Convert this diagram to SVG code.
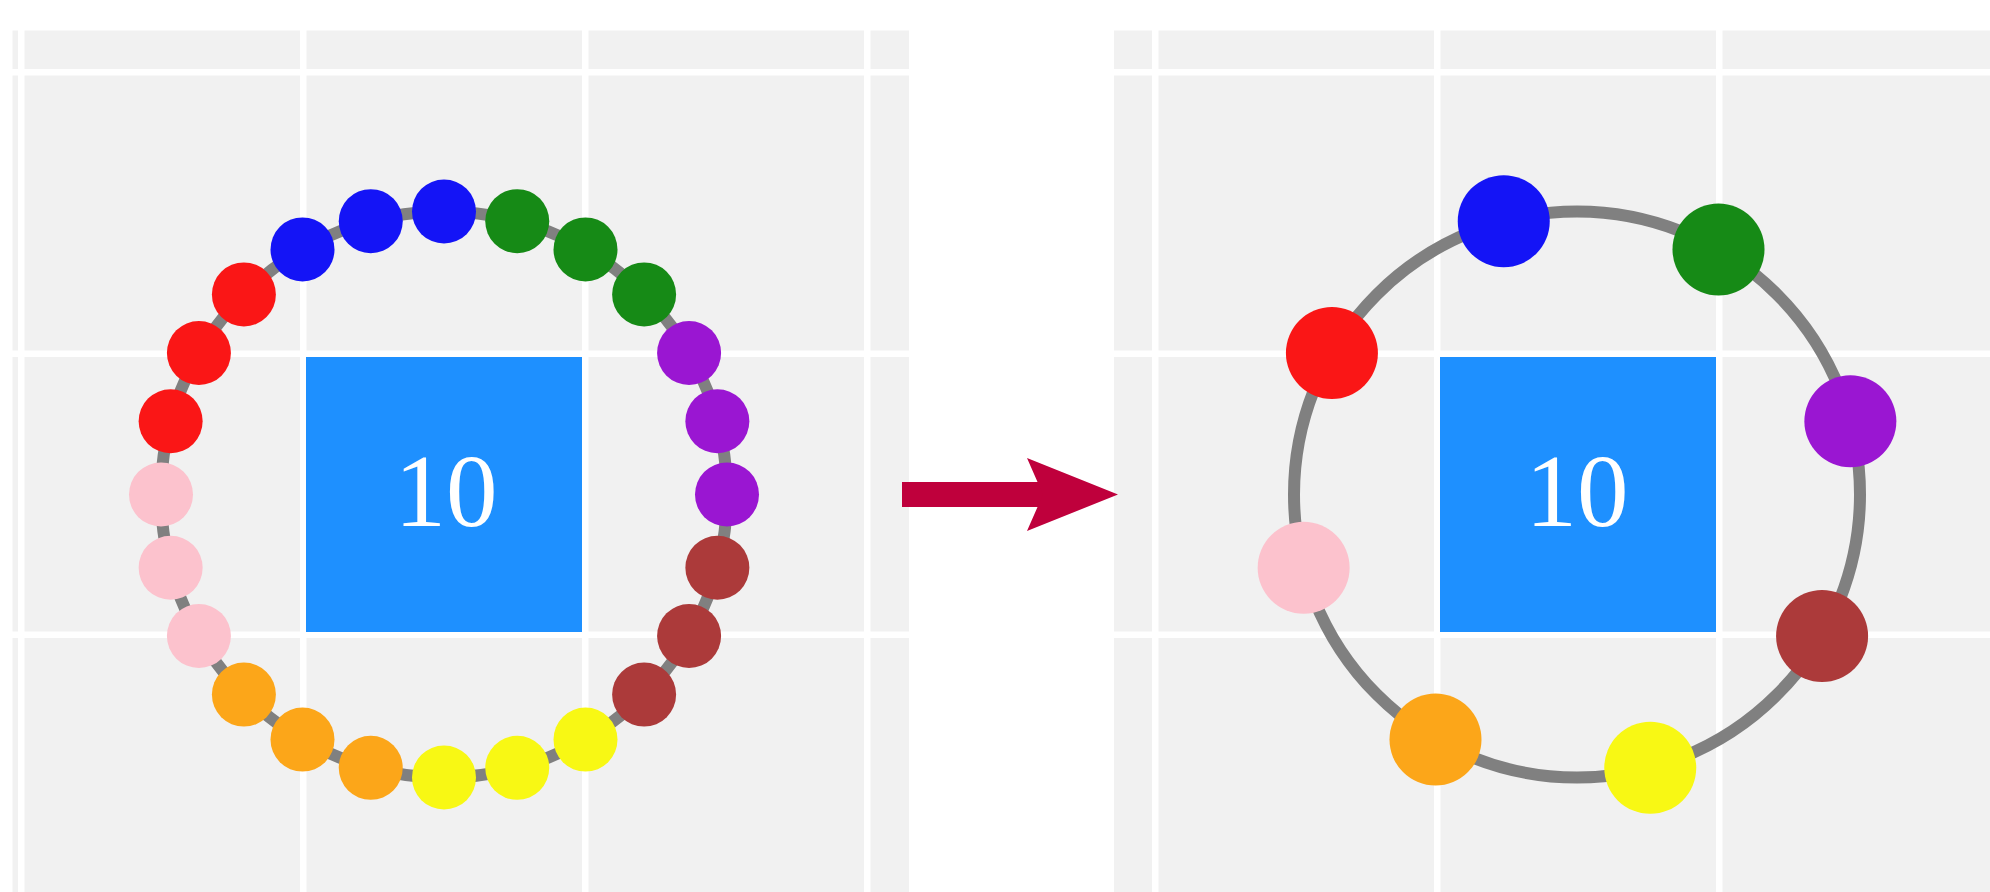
<svg xmlns="http://www.w3.org/2000/svg" width="1990" height="892" viewBox="0 0 1990 892">
  <style>
    .panel { fill: #f1f1f1; }
    .grid { fill: #ffffff; }
    .square { fill: #1e90ff; }
    .label { font-family: "Liberation Serif", "DejaVu Serif", serif; font-size: 103px; fill: #ffffff; text-anchor: middle; }
    .ring { fill: none; stroke: #808080; stroke-width: 12; }
    .blue { fill: #1414f6; }
    .green { fill: #168a16; }
    .purple { fill: #9a16d2; }
    .brown { fill: #ac3a3a; }
    .yellow { fill: #f8f814; }
    .orange { fill: #fca619; }
    .pink { fill: #fcc2cd; }
    .red { fill: #fa1616; }
    .arrow { fill: #bf003c; }
  </style>
  <rect x="0" y="0" width="1990" height="892" fill="#ffffff"/>

  <g id="left-panel">
    <rect class="panel" x="12.5" y="30.5" width="896.5" height="861.5"/>
    <rect class="grid" x="18" y="30" width="6.5" height="862"/>
    <rect class="grid" x="300" y="30" width="6.5" height="862"/>
    <rect class="grid" x="582" y="30" width="6.5" height="862"/>
    <rect class="grid" x="864" y="30" width="6.5" height="862"/>
    <rect class="grid" x="12" y="69" width="897" height="6.5"/>
    <rect class="grid" x="12" y="350.5" width="897" height="6.5"/>
    <rect class="grid" x="12" y="631.5" width="897" height="6.5"/>
  </g>

  <g id="right-panel">
    <rect class="panel" x="1114" y="30.5" width="876" height="861.5"/>
    <rect class="grid" x="1152" y="30" width="6.5" height="862"/>
    <rect class="grid" x="1434" y="30" width="6.5" height="862"/>
    <rect class="grid" x="1716" y="30" width="6.5" height="862"/>
    <rect class="grid" x="1114" y="69" width="876" height="6.5"/>
    <rect class="grid" x="1114" y="350.5" width="876" height="6.5"/>
    <rect class="grid" x="1114" y="631.5" width="876" height="6.5"/>
  </g>

  <g id="left-ring">
    <circle class="ring" cx="444" cy="494.5" r="283"/>
    <circle class="blue" cx="444" cy="211.5" r="32"/>
    <circle class="green" cx="517.25" cy="221.14" r="32"/>
    <circle class="green" cx="585.5" cy="249.42" r="32"/>
    <circle class="green" cx="644.11" cy="294.39" r="32"/>
    <circle class="purple" cx="689.09" cy="353" r="32"/>
    <circle class="purple" cx="717.36" cy="421.25" r="32"/>
    <circle class="purple" cx="727" cy="494.5" r="32"/>
    <circle class="brown" cx="717.36" cy="567.75" r="32"/>
    <circle class="brown" cx="689.09" cy="636" r="32"/>
    <circle class="brown" cx="644.11" cy="694.61" r="32"/>
    <circle class="yellow" cx="585.5" cy="739.59" r="32"/>
    <circle class="yellow" cx="517.25" cy="767.86" r="32"/>
    <circle class="yellow" cx="444" cy="777.5" r="32"/>
    <circle class="orange" cx="370.75" cy="767.86" r="32"/>
    <circle class="orange" cx="302.5" cy="739.59" r="32"/>
    <circle class="orange" cx="243.89" cy="694.61" r="32"/>
    <circle class="pink" cx="198.91" cy="636" r="32"/>
    <circle class="pink" cx="170.64" cy="567.75" r="32"/>
    <circle class="pink" cx="161" cy="494.5" r="32"/>
    <circle class="red" cx="170.64" cy="421.25" r="32"/>
    <circle class="red" cx="198.91" cy="353" r="32"/>
    <circle class="red" cx="243.89" cy="294.39" r="32"/>
    <circle class="blue" cx="302.5" cy="249.42" r="32"/>
    <circle class="blue" cx="370.75" cy="221.14" r="32"/>
  </g>

  <g id="left-node">
    <rect class="square" x="306" y="357" width="276" height="275"/>
    <text class="label" x="446" y="526">10</text>
  </g>

  <g id="right-ring">
    <circle class="ring" cx="1577" cy="494.5" r="283"/>
    <circle class="blue" cx="1503.75" cy="221.14" r="46"/>
    <circle class="green" cx="1718.5" cy="249.42" r="46"/>
    <circle class="purple" cx="1850.36" cy="421.25" r="46"/>
    <circle class="brown" cx="1822.09" cy="636" r="46"/>
    <circle class="yellow" cx="1650.25" cy="767.86" r="46"/>
    <circle class="orange" cx="1435.5" cy="739.59" r="46"/>
    <circle class="pink" cx="1303.64" cy="567.75" r="46"/>
    <circle class="red" cx="1331.91" cy="353" r="46"/>
  </g>

  <g id="right-node">
    <rect class="square" x="1440" y="357" width="276" height="275"/>
    <text class="label" x="1577" y="526">10</text>
  </g>

  <g id="connectors">
    <rect class="arrow" x="902" y="482" width="150" height="25"/>
    <polygon class="arrow" points="1118,494.5 1027,458 1043,494.5 1027,531"/>
  </g>
</svg>
